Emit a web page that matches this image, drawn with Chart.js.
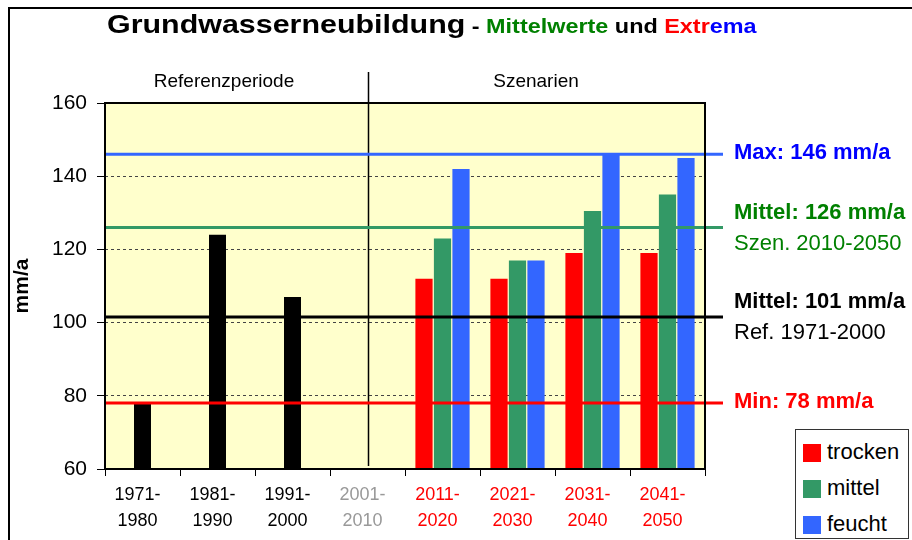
<!DOCTYPE html>
<html>
<head>
<meta charset="utf-8">
<script src="https://cdn.jsdelivr.net/npm/chart.js@4.4.1/dist/chart.umd.min.js"></script>
<style>
  body { margin: 0; background: #fff; }
  #wrap { position: relative; width: 912px; height: 540px; overflow: hidden; font-family: 'Liberation Sans', Arial, sans-serif; }
  #frame { position: absolute; left: 8px; top: 7px; width: 940px; height: 560px; border-left: 2px solid #000; border-top: 2px solid #000; }
  canvas { position: absolute; left: 0; top: 0; }
  #title { position: absolute; left: 107px; top: 9px; white-space: nowrap; font-weight: bold; transform: scaleX(1.17); transform-origin: left top; }
  .hdr { position: absolute; top: 70px; font-size: 19px; color: #000; transform: translateX(-50%); white-space: nowrap; }
  #legend { position: absolute; left: 795px; top: 429px; width: 112px; height: 108px; border: 1px solid #333; background: #fff; }
  .item { position: absolute; left: 7px; height: 22px; font-size: 22px; line-height: 22px; }
  .item i { position: absolute; left: 0; top: 2px; width: 18px; height: 18px; }
  .item span { position: absolute; left: 24px; top: -1px; }
</style>
</head>
<body>
<div id="wrap">
  <div id="frame"></div>
  <canvas id="c" width="912" height="540"></canvas>
  <div id="title"><span style="font-size:26px">Grundwasserneubildung</span><span style="font-size:20px"> - <span style="color:#008000">Mittelwerte</span> und <span style="color:#ff0000">Extr</span><span style="color:#0000ff">ema</span></span></div>
  <div class="hdr" style="left:224px">Referenzperiode</div>
  <div class="hdr" style="left:536px">Szenarien</div>
  <div id="legend">
    <div class="item" style="top:12px"><i style="background:#ff0000"></i><span>trocken</span></div>
    <div class="item" style="top:48px"><i style="background:#339966"></i><span>mittel</span></div>
    <div class="item" style="top:84px"><i style="background:#3366ff"></i><span>feucht</span></div>
  </div>
</div>
<script>
// Daten
const categories = [
    ['1971-', '1980'], ['1981-', '1990'], ['1991-', '2000'], ['2001-', '2010'],
    ['2011-', '2020'], ['2021-', '2030'], ['2031-', '2040'], ['2041-', '2050']
];
const categoryColors = ['#000', '#000', '#000', '#999', '#f00', '#f00', '#f00', '#f00'];

const refValues = [78, 124, 107, null, null, null, null, null];
const dryValues = [null, null, null, null, 112, 112, 119, 119];   // trocken
const midValues = [null, null, null, null, 123, 117, 130.5, 135]; // mittel
const wetValues = [null, null, null, null, 142, 117, 146, 145];   // feucht

const yTicks = [60, 80, 100, 120, 140, 160];

// Bezugslinien (Max, Mittel Szen., Mittel Ref., Min)
const lineValues = [146, 126, 101.5, 78];
const lineColors = ['#3366ff', '#339966', '#000000', '#ff0000'];
const lineLabels = [
    ['Max: 146 mm/a'],
    ['Mittel: 126 mm/a', 'Szen. 2010-2050'],
    ['Mittel: 101 mm/a', 'Ref. 1971-2000'],
    ['Min: 78 mm/a']
];
const labelColors = ['#0000ff', '#008000', '#000000', '#ff0000'];

Chart.defaults.font.family = "'Liberation Sans', Arial, sans-serif";
Chart.defaults.color = '#000';

const plotBg = {
    id: 'plotBg',
    beforeDraw(chart) {
        const { ctx, chartArea: a } = chart;
        ctx.save();
        ctx.fillStyle = '#ffffcc';
        ctx.fillRect(a.left, a.top, a.right - a.left, a.bottom - a.top);
        ctx.restore();
    }
};

const overlay = {
    id: 'overlay',
    afterDatasetsDraw(chart) {
        const { ctx, chartArea: a, scales } = chart;
        const y = scales.y, x = scales.x;
        ctx.save();

        // Trennlinie Referenz / Szenarien
        const xd = Math.round(x.getPixelForValue(3)) + 0.5;
        ctx.strokeStyle = '#000';
        ctx.lineWidth = 1.5;
        ctx.beginPath();
        ctx.moveTo(xd, 72);
        ctx.lineTo(xd, a.bottom - 3);
        ctx.stroke();

        // horizontale Linien
        lineValues.forEach((v, i) => {
            const py = y.getPixelForValue(v);
            ctx.strokeStyle = lineColors[i];
            ctx.lineWidth = 3;
            ctx.beginPath();
            ctx.moveTo(a.left, py);
            ctx.lineTo(a.right + 18, py);
            ctx.stroke();
        });

        // Rahmen
        ctx.strokeStyle = '#000';
        ctx.lineWidth = 2;
        ctx.strokeRect(a.left, a.top, a.right - a.left, a.bottom - a.top);

        // Beschriftung rechts
        ctx.textBaseline = 'middle';
        ctx.textAlign = 'left';
        lineValues.forEach((v, i) => {
            const py = y.getPixelForValue(v);
            const lines = lineLabels[i];
            ctx.fillStyle = labelColors[i];
            if (lines.length === 1) {
                ctx.font = "bold 22px 'Liberation Sans', Arial, sans-serif";
                ctx.fillText(lines[0], a.right + 29, py - 1);
            } else {
                ctx.font = "bold 22px 'Liberation Sans', Arial, sans-serif";
                ctx.fillText(lines[0], a.right + 29, py - 15);
                ctx.font = "22px 'Liberation Sans', Arial, sans-serif";
                ctx.fillText(lines[1], a.right + 29, py + 16);
            }
        });
        ctx.restore();
    }
};

new Chart(document.getElementById('c'), {
    type: 'bar',
    data: {
        labels: categories,
        datasets: [
            { label: 'Referenz', data: refValues, backgroundColor: '#000', grouped: false, maxBarThickness: 17 },
            { label: 'trocken', data: dryValues, backgroundColor: '#ff0000' },
            { label: 'mittel', data: midValues, backgroundColor: '#339966' },
            { label: 'feucht', data: wetValues, backgroundColor: '#3366ff' }
        ]
    },
    options: {
        responsive: false,
        animation: false,
        categoryPercentage: 0.74,
        barPercentage: 0.93,
        layout: { padding: { top: 103, right: 207, bottom: 0, left: 0 } },
        plugins: { legend: { display: false }, tooltip: { enabled: false }, title: { display: false } },
        scales: {
            x: {
                afterFit: s => { s.height = 71; },
                grid: { drawOnChartArea: false, tickLength: 7, tickColor: '#000', tickWidth: 1 },
                border: { display: false },
                ticks: {
                    font: { size: 18, lineHeight: 1.444 },
                    color: ctx => categoryColors[ctx.index],
                    padding: 6,
                    labelOffset: -5,
                    autoSkip: false,
                    maxRotation: 0
                }
            },
            y: {
                min: 60,
                max: 160,
                afterFit: s => { s.width = 105; },
                afterBuildTicks: s => { s.ticks = yTicks.map(v => ({ value: v })); },
                grid: {
                    color: ctx => (ctx.tick && (ctx.tick.value === 60 || ctx.tick.value === 160)) ? 'rgba(0,0,0,0)' : '#444',
                    lineWidth: 1,
                    tickLength: 8,
                    tickColor: '#000',
                    tickWidth: 1
                },
                border: { display: false, dash: [3, 3] },
                ticks: { font: { size: 21 }, padding: 10 },
                title: {
                    display: true,
                    text: 'mm/a',
                    font: { size: 21, weight: 'bold' },
                    padding: { top: 10, bottom: 0 }
                }
            }
        }
    },
    plugins: [plotBg, overlay]
});
</script>
</body>
</html>
